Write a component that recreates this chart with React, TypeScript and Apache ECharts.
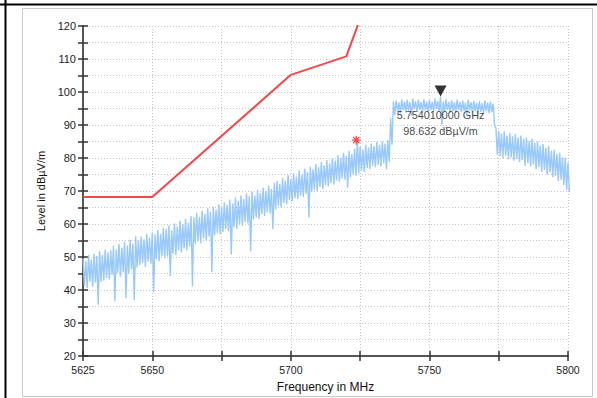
import React, { useEffect, useRef } from 'react';
import * as echarts from 'echarts';

// Axis ranges / tick labels
const X_MIN = 5625;
const X_MAX = 5800;
const X_TICK_LABELS = [5625, 5650, 5700, 5750, 5800];
const Y_MIN = 20;
const Y_MAX = 120;

// Limit line (red)
const limitFreq = [5625, 5650, 5700, 5720, 5725];
const limitLevel = [68.2, 68.2, 105.2, 110.8, 122.2];

// Measured trace envelope read per 1 MHz step, starting at 5625 MHz
const TRACE_START = 5625;
const TRACE_STEP = 1;
const traceHigh = [
  49.5, 48.8, 50.6, 49.2, 51.0, 50.4, 51.8, 50.6, 52.3, 51.4,
  52.0, 53.4, 52.2, 54.0, 52.8, 54.6, 53.5, 55.2, 54.0, 56.3,
  55.0, 56.2, 55.4, 57.0, 55.8, 57.4, 56.8, 58.2, 57.0, 58.8,
  58.4, 59.6, 58.0, 60.2, 59.2, 61.0, 60.0, 61.6, 60.4, 62.4,
  62.0, 63.4, 62.2, 64.0, 63.0, 64.8, 63.6, 65.2, 64.4, 66.0,
  65.2, 66.6, 65.8, 67.4, 66.2, 68.0, 67.0, 68.6, 67.6, 69.2,
  68.4, 69.8, 68.6, 70.4, 69.4, 71.0, 70.0, 71.6, 70.6, 72.4,
  73.0, 72.2, 74.0, 73.2, 74.8, 73.6, 75.4, 74.4, 76.2, 75.0,
  76.8, 75.8, 77.4, 76.6, 78.2, 77.2, 78.8, 77.8, 79.4, 78.4,
  80.0, 79.2, 80.8, 80.0, 81.6, 80.6, 82.2, 81.2, 82.8, 85.6,
  83.4, 82.6, 84.0, 83.2, 84.4, 83.6, 84.8, 84.0, 85.0, 84.4,
  85.4, 92.0, 97.2,
  97.4, 96.8, 97.8, 97.0, 97.6, 96.9, 97.9, 97.2, 97.6, 97.0,
  97.8, 97.1, 97.6, 97.0, 98.0, 97.3, 98.6, 97.2, 97.8, 97.0,
  97.5, 96.9, 97.7, 97.0, 97.4, 96.8, 97.6, 96.9, 97.3, 96.7,
  97.2, 96.6, 97.4, 96.8, 97.1, 96.5,
  89.0,
  88.2, 87.4, 88.0, 86.8, 87.6, 86.6, 87.2, 86.2, 86.8, 85.8,
  86.2, 85.2, 85.8, 84.6, 85.0, 83.8, 84.2, 83.0, 83.6, 82.2,
  82.6, 81.2, 81.6, 80.2, 80.0, 78.6,
];
const traceLow = [
  41.2, 40.6, 42.5, 41.0, 42.2, 35.5, 42.4, 42.8, 43.6, 43.2,
  44.6, 36.6, 45.2, 44.0, 45.4, 37.5, 45.0, 46.4, 37.0, 46.8,
  47.6, 48.2, 47.0, 48.6, 48.0, 39.3, 49.4, 48.8, 50.2, 49.6,
  50.2, 44.2, 51.0, 50.6, 52.0, 51.4, 52.6, 52.0, 53.2, 41.1,
  54.0, 54.8, 54.2, 55.6, 55.0, 56.2, 45.4, 56.6, 57.2, 56.8,
  57.6, 58.4, 57.8, 50.8, 59.0, 58.6, 60.0, 59.4, 60.6, 60.2,
  51.7, 61.4, 62.0, 61.6, 63.0, 62.4, 63.6, 63.2, 58.4, 64.4,
  65.6, 65.0, 66.4, 66.0, 67.2, 66.8, 67.8, 67.6, 68.6, 68.2,
  69.2, 62.0, 69.8, 70.4, 70.0, 71.2, 70.6, 71.8, 71.4, 72.4,
  72.0, 73.2, 72.8, 73.8, 73.4, 71.0, 74.2, 75.0, 74.6, 75.4,
  76.2, 75.6, 77.0, 76.6, 77.6, 77.2, 78.0, 77.4, 78.4, 76.5,
  78.8, 84.0, 93.0,
  94.2, 93.6, 94.6, 93.8, 94.4, 92.8, 94.8, 94.0, 94.6, 93.9,
  94.4, 93.8, 94.6, 94.0, 94.8, 94.2, 90.0, 94.1, 94.6, 93.7,
  94.3, 93.7, 94.5, 93.9, 94.2, 92.6, 94.4, 93.8, 94.1, 93.5,
  94.0, 93.4, 94.2, 93.6, 93.9, 90.0,
  81.0,
  80.6, 80.0, 80.8, 79.6, 80.2, 79.2, 79.8, 78.8, 79.4, 77.6,
  78.4, 77.4, 78.0, 76.6, 77.2, 75.8, 76.4, 75.0, 75.6, 74.2,
  74.6, 73.0, 73.4, 71.8, 70.4, 69.6,
];

// Marker and peak
const markerFreq = 5754.01;
const markerLevel = 98.632;
const markerText = ['5.754010000 GHz', '98.632 dBµV/m'];
const peakFreq = 5723.6;
const peakLevel = 85.4;

const FONT = '"Liberation Sans", Arial, sans-serif';

export default function App() {
  const ref = useRef<HTMLDivElement>(null);
  useEffect(() => {
    const chart = echarts.init(ref.current!, null, { renderer: 'svg' });

    const traceData: number[][] = [];
    traceHigh.forEach((h, i) => {
      const f = TRACE_START + i * TRACE_STEP;
      traceData.push([f, h]);
      traceData.push([f + TRACE_STEP / 2, traceLow[i]]);
    });
    const limitData = limitFreq.map((f, i) => [f, limitLevel[i]]);

    const grid = { left: 83, right: 29, top: 26, bottom: 41 };
    const gridLine = { show: true, lineStyle: { color: '#c4c4c4', type: [1, 2] as any, width: 1 } };

    const option: any = {
      animation: false,
      backgroundColor: 'transparent',
      textStyle: { fontFamily: FONT },
      graphic: {
        elements: [
          { type: 'rect', z: -10, shape: { x: 22.5, y: 8.5, width: 570, height: 388 }, style: { fill: '#fff', stroke: '#c8c8c8', lineWidth: 1 } },
          { type: 'rect', z: 100, shape: { x: 0, y: 3.5, width: 597, height: 2 }, style: { fill: '#000' } },
          { type: 'rect', z: 100, shape: { x: 4.5, y: 0, width: 2, height: 398 }, style: { fill: '#000' } },
        ],
      },
      grid,
      xAxis: [
        {
          type: 'value', min: X_MIN, max: X_MAX, interval: 25,
          name: 'Frequency in MHz', nameLocation: 'middle', nameGap: 25,
          nameTextStyle: { fontSize: 12, color: '#111', fontFamily: FONT },
          axisLine: { show: true, onZero: false, lineStyle: { color: '#555', width: 2 } },
          axisTick: { show: true, length: 5, lineStyle: { color: '#333', width: 1.5 } },
          axisLabel: {
            margin: 8, fontSize: 10.5, color: '#222', fontFamily: FONT,
            formatter: (v: number) => (X_TICK_LABELS.includes(v) ? String(v) : ''),
          },
          splitLine: gridLine,
        },
        {
          type: 'value', min: X_MIN, max: X_MAX, interval: 25, position: 'bottom',
          axisLine: { show: false, onZero: false },
          axisTick: { show: true, inside: true, length: 5, lineStyle: { color: '#333', width: 1.5 } },
          axisLabel: { show: false },
          splitLine: { show: false },
        },
      ],
      yAxis: [
        {
          type: 'value', min: Y_MIN, max: Y_MAX, interval: 10,
          name: 'Level in dBµV/m', nameLocation: 'middle', nameGap: 25,
          nameTextStyle: { fontSize: 11, color: '#111', fontFamily: FONT },
          axisLine: { show: true, onZero: false, lineStyle: { color: '#555', width: 2 } },
          axisTick: { show: true, length: 5, lineStyle: { color: '#333', width: 1.5 } },
          minorTick: { show: true, splitNumber: 2, length: 5, lineStyle: { color: '#333', width: 1.5 } },
          axisLabel: { margin: 7, fontSize: 11, color: '#222', fontFamily: FONT },
          splitLine: gridLine,
          minorSplitLine: gridLine,
        },
        {
          type: 'value', min: Y_MIN, max: Y_MAX, interval: 10, position: 'left',
          axisLine: { show: false, onZero: false },
          axisTick: { show: true, inside: true, length: 5, lineStyle: { color: '#333', width: 1.5 } },
          minorTick: { show: true, splitNumber: 2, length: 5, lineStyle: { color: '#333', width: 1.5 } },
          axisLabel: { show: false },
          splitLine: { show: false },
        },
      ],
      series: [
        {
          type: 'line', xAxisIndex: 0, yAxisIndex: 0, data: traceData,
          showSymbol: false, symbol: 'none', clip: true,
          lineStyle: { color: '#99c8fb', width: 1.4 }, z: 2,
        },
        {
          type: 'line', xAxisIndex: 0, yAxisIndex: 0, data: limitData,
          showSymbol: false, symbol: 'none', clip: true,
          lineStyle: { color: '#f44848', width: 2 }, z: 3,
        },
        {
          type: 'scatter', xAxisIndex: 0, yAxisIndex: 0,
          data: [[peakFreq, peakLevel]],
          symbol: 'path://M5 0 L5 10 M0 5 L10 5 M1.5 1.5 L8.5 8.5 M1.5 8.5 L8.5 1.5',
          symbolSize: 9,
          itemStyle: { color: 'transparent', borderColor: '#ff2020', borderWidth: 1.3 },
          z: 5,
        },
        {
          type: 'scatter', xAxisIndex: 0, yAxisIndex: 0,
          data: [[markerFreq, markerLevel]],
          symbol: 'triangle', symbolRotate: 180, symbolSize: [12, 11], symbolOffset: [0, -5.5],
          itemStyle: { color: '#000' },
          z: 6,
        },
        {
          type: 'scatter', xAxisIndex: 0, yAxisIndex: 0,
          data: [[markerFreq, markerLevel]],
          symbolSize: 0,
          label: {
            show: true, position: 'bottom', distance: 10,
            formatter: markerText.join('\n'),
            fontSize: 10.8, lineHeight: 16, color: '#111', fontFamily: FONT, align: 'center',
          },
          z: 7,
        },
      ],
    };
    chart.setOption(option);
    return () => chart.dispose();
  }, []);
  return (
    <div
      ref={ref}
      style={{ position: 'fixed', left: 0, top: 0, width: 597, height: 398, background: '#fff' }}
    />
  );
}
